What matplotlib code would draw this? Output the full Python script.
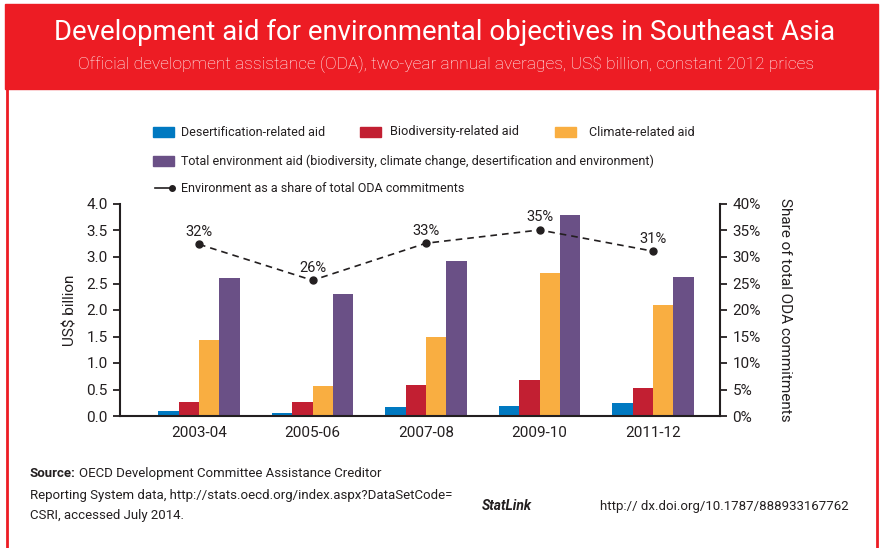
import matplotlib
matplotlib.use("Agg")
import matplotlib.pyplot as plt
import matplotlib.patches as mpatches
from matplotlib.lines import Line2D
import numpy as np

# values (US$ billion, constant 2012 prices)
periods = ["2003-04", "2005-06", "2007-08", "2009-10", "2011-12"]
desertification = [0.10, 0.06, 0.17, 0.19, 0.25]
biodiversity = [0.27, 0.27, 0.59, 0.67, 0.53]
climate = [1.43, 0.57, 1.50, 2.70, 2.10]
total_env = [2.60, 2.30, 2.92, 3.80, 2.62]
share_pct = [32.4, 25.6, 32.6, 35.1, 31.1]
share_labels = ["32%", "26%", "33%", "35%", "31%"]

c_blue = "#0079C1"
c_red = "#C21F32"
c_orange = "#F9AE41"
c_purple = "#6A5086"
c_header = "#ED1C24"
c_dark = "#231F20"

W, H = 881, 548
plt.rcParams["font.family"] = ["Roboto", "DejaVu Sans"]

fig = plt.figure(figsize=(W / 100, H / 100), dpi=100)
renderer = fig.canvas.get_renderer()


def fx(x):
    return x / W


def fy(y):
    return 1 - y / H


def fit(t, width):
    # scale a text so it spans the same pixel width as in the reference
    w = t.get_window_extent(renderer).width
    t.set_fontsize(t.get_fontsize() * width / w)
    return t


# header band and side borders
fig.patches.append(mpatches.Rectangle((fx(5), fy(89)), fx(873), 85 / H,
                                      transform=fig.transFigure, color=c_header, zorder=0))
fig.add_artist(Line2D([fx(7), fx(7)], [fy(89), 0], transform=fig.transFigure, color=c_header, lw=2))
fig.add_artist(Line2D([fx(877), fx(877)], [fy(89), 0], transform=fig.transFigure, color=c_header, lw=2))

fit(fig.text(fx(445), fy(32), "Development aid for environmental objectives in Southeast Asia",
             ha="center", va="center", color="white", fontsize=20), 776)
fit(fig.text(fx(446), fy(64), "Official development assistance (ODA), two-year annual averages, US$ billion, constant 2012 prices",
             ha="center", va="center", color="white", fontsize=12, fontweight="light"), 732)

# main axes
ax = fig.add_axes([fx(120), fy(416), fx(600), (416 - 204) / H])
x = np.arange(len(periods))
bw = 0.18
ax.bar(x - 1.5 * bw, desertification, bw, color=c_blue, zorder=2)
ax.bar(x - 0.5 * bw, biodiversity, bw, color=c_red, zorder=2)
ax.bar(x + 0.5 * bw, climate, bw, color=c_orange, zorder=2)
ax.bar(x + 1.5 * bw, total_env, bw, color=c_purple, zorder=2)

ax.set_xlim(-0.696, 4.59)
ax.set_ylim(0, 4)
ax.set_yticks(np.arange(0, 4.01, 0.5))
ax.set_yticklabels([f"{v:.1f}" for v in np.arange(0, 4.01, 0.5)])
ax.set_xticks(x)
ax.set_xticklabels(periods)
ax.tick_params(axis="x", length=0, pad=7, labelsize=11, colors=c_dark)
ax.tick_params(axis="y", length=5, width=1.3, direction="out", labelsize=11, colors=c_dark, pad=4)
for s in ["top", "right"]:
    ax.spines[s].set_visible(False)
for s in ["left", "bottom"]:
    ax.spines[s].set_color(c_dark)
    ax.spines[s].set_linewidth(1.5)
ax.set_ylabel("US$ billion", fontsize=11, color=c_dark, labelpad=6)

ax2 = ax.twinx()
ax2.set_ylim(0, 40)
ax2.set_yticks(np.arange(0, 41, 5))
ax2.set_yticklabels([f"{v}%" for v in range(0, 41, 5)])
ax2.tick_params(axis="y", length=5, width=1.3, direction="out", labelsize=11, colors=c_dark, pad=4)
for s in ["top", "left", "bottom"]:
    ax2.spines[s].set_visible(False)
ax2.spines["right"].set_color(c_dark)
ax2.spines["right"].set_linewidth(1.5)
ax2.plot(x, share_pct, color=c_dark, ls=(0, (4, 3)), lw=1.2, marker="o", ms=5, zorder=3)
for xi, v, lab in zip(x, share_pct, share_labels):
    ax2.annotate(lab, (xi, v), xytext=(0, 4), textcoords="offset points",
                 ha="center", va="bottom", fontsize=10.5, color=c_dark)
ax2.set_ylabel("Share of total ODA commitments", fontsize=11, color=c_dark,
               rotation=-90, labelpad=22)

# legend, drawn by hand to match the layout
leg_items = [(153, 132, c_blue, 181, 144, "Desertification-related aid"),
             (360, 132, c_red, 390, 130, "Biodiversity-related aid"),
             (555, 132, c_orange, 589, 106, "Climate-related aid"),
             (153, 161, c_purple, 181, 473,
              "Total environment aid (biodiversity, climate change, desertification and environment)")]
for px, py, col, tx, tw, lab in leg_items:
    fig.patches.append(mpatches.Rectangle((fx(px), fy(py + 5)), 21 / W, 10 / H,
                                          transform=fig.transFigure, color=col))
    fit(fig.text(fx(tx), fy(py), lab, ha="left", va="center", fontsize=9, color=c_dark), tw)
fig.add_artist(Line2D([fx(155), fx(172)], [fy(188), fy(188)], transform=fig.transFigure,
                      color=c_dark, lw=1.2, marker="o", ms=4, markevery=[1]))
fit(fig.text(fx(181), fy(188), "Environment as a share of total ODA commitments",
             ha="left", va="center", fontsize=9, color=c_dark), 283)

# source and StatLink
src_size = 9.5
src = fig.text(fx(30), fy(477), "Source:", ha="left", va="baseline", fontsize=src_size,
               fontweight="bold", color=c_dark)
src_w = src.get_window_extent(renderer).width
fig.text(fx(30 + src_w + 3), fy(477), "OECD Development Committee Assistance Creditor",
         ha="left", va="baseline", fontsize=src_size, color=c_dark)
fig.text(fx(30), fy(499), "Reporting System data, http://stats.oecd.org/index.aspx?DataSetCode=",
         ha="left", va="baseline", fontsize=src_size, color=c_dark)
fig.text(fx(30), fy(519), "CSRI, accessed July 2014.",
         ha="left", va="baseline", fontsize=src_size, color=c_dark)
fig.text(fx(482), fy(510), "StatLink", ha="left", va="baseline", fontsize=10,
         fontweight="bold", style="italic", color=c_dark)
fig.text(fx(600), fy(510), "http:// dx.doi.org/10.1787/888933167762",
         ha="left", va="baseline", fontsize=src_size, color=c_dark)

fig.savefig("out.png", dpi=100)
